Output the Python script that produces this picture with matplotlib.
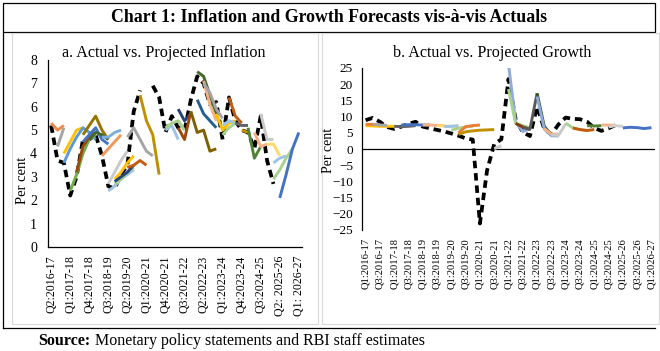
import numpy as np
import matplotlib
matplotlib.use("Agg")
import matplotlib.pyplot as plt
from matplotlib.patches import Rectangle
from matplotlib.lines import Line2D

plt.rcParams['font.family'] = ['Liberation Serif', 'DejaVu Serif']

# ---------------- data ----------------
title = "Chart 1: Inflation and Growth Forecasts vis-à-vis Actuals"
title_a = "a. Actual vs. Projected Inflation"
title_b = "b. Actual vs. Projected Growth"
ylabel = "Per cent"


def make_quarters(fy, q, n):
    out = []
    for _ in range(n):
        out.append(f"Q{q}:{fy}-{str(fy + 1)[2:]}")
        q += 1
        if q > 4:
            q, fy = 1, fy + 1
    return out


infl_quarters = make_quarters(2016, 2, 40)   # Q2:2016-17 ... Q1:2026-27
gdp_quarters = make_quarters(2016, 1, 41)    # Q1:2016-17 ... Q1:2026-27

infl_ticklabels = ["Q2:2016-17", "Q1:2017-18", "Q4:2017-18", "Q3:2018-19", "Q2:2019-20",
                   "Q1:2020-21", "Q4:2020-21", "Q3:2021-22", "Q2:2022-23", "Q1:2023-24",
                   "Q4:2023-24", "Q3:2024-25", "Q2: 2025-26", "Q1: 2026-27"]
gdp_ticklabels = gdp_quarters[::2]

nan = np.nan
infl_actual = [5.2, 3.7, 3.6, 2.2, 3.0, 4.6, 4.6, 4.8, 3.9, 2.6, 2.5, 3.1, 3.5, 5.8, 6.7, nan,
               6.9, 6.4, 4.9, 5.6, 5.1, 5.0, 6.3, 7.3, 7.0, 6.1, 6.2, 4.6, 6.4, 5.4, 5.0, 4.9,
               4.2, 5.6, 3.7, 2.7]

# (start quarter, projected values)
infl_proj = [
    ("Q2:2016-17", [5.3, 5.0, 5.2]),
    ("Q3:2016-17", [4.3, 5.1]),
    ("Q4:2016-17", [4.0, 4.5, 5.0, 5.1]),
    ("Q4:2016-17", [3.6, 4.2, 4.7, 5.1, 4.9, 4.6]),
    ("Q1:2017-18", [2.4, 3.1, 4.0, 4.6, 4.8]),
    ("Q2:2017-18", [3.2, 4.3, 4.7, 4.9]),
    ("Q3:2017-18", [4.5, 4.8, 5.1, 4.6, 4.4]),
    ("Q3:2017-18", [4.8, 5.2, 5.6, 5.0, 4.6]),
    ("Q4:2017-18", [4.6, 4.9, 4.8, 4.6]),
    ("Q2:2018-19", [4.7, 4.7, 4.9, 5.0]),
    ("Q2:2018-19", [3.9, 4.2, 4.5, 4.8]),
    ("Q3:2018-19", [2.7, 3.2, 3.7, 4.1]),
    ("Q3:2018-19", [2.4, 2.6, 2.9, 3.1, 3.3]),
    ("Q4:2018-19", [2.9, 3.2, 3.6, 3.9]),
    ("Q4:2018-19", [2.7, 2.9, 3.2, 3.4]),
    ("Q4:2018-19", [2.8, 3.0, 3.2, 3.5]),
    ("Q2:2019-20", [4.7, 5.1, 4.6, 4.1, 3.9]),
    ("Q2:2019-20", [3.4, 3.5, 3.7, 3.5]),
    ("Q4:2019-20", [6.5, 5.4, 4.8, 3.1]),
    ("Q4:2020-21", [5.0, 5.2, 4.6]),
    ("Q4:2020-21", [5.1, 5.3, 5.4, 5.0]),
    ("Q2:2021-22", [5.9, 5.4, 5.7]),
    ("Q2:2021-22", [5.1, 4.6, 5.8]),
    ("Q4:2021-22", [5.8, 4.9, 5.0, 4.1, 4.2]),
    ("Q1:2022-23", [6.3, 5.7, 5.4, 5.1]),
    ("Q1:2022-23", [7.5, 7.3, 6.5, 5.7]),
    ("Q2:2022-23", [7.1, 6.1, 5.4]),
    ("Q2:2022-23", [7.0, 6.6, 5.9, 5.5]),
    ("Q4:2022-23", [5.7, 5.0, 5.3, 5.4]),
    ("Q1:2023-24", [5.2, 5.4, 5.3]),
    ("Q1:2023-24", [4.8, 5.1, 5.3]),
    ("Q2:2023-24", [6.4, 5.6, 5.3]),
    ("Q3:2023-24", [5.3, 5.2, 5.2]),
    ("Q4:2023-24", [5.0, 4.9]),
    ("Q1:2024-25", [5.1, 3.8, 4.3]),
    ("Q2:2024-25", [4.9, 4.3, 4.4]),
    ("Q3:2024-25", [5.7, 4.6, 4.6]),
    ("Q4:2024-25", [4.4, 4.4, 3.9]),
    ("Q1:2025-26", [3.6, 3.8, 3.9]),
    ("Q1:2025-26", [2.9, 3.3, 3.8, 4.2]),
    ("Q2:2025-26", [2.1, 3.1, 4.2, 4.9]),
]
infl_colors = ["#F08A4B", "#A5A5A5", "#FFC000", "#5B9BD5", "#70AD47", "#9E480E",
               "#4472C4", "#997300", "#43682B", "#7CAFDD", "#F1975A", "#C9C9C9",
               "#9DC3E6", "#FFC000", "#A9D18E", "#264478", "#A5A5A5", "#C55A11",
               "#BF9000", "#9DC3E6", "#A9D18E", "#264478", "#9E480E", "#7F6000",
               "#255E91", "#43682B", "#F4B183", "#A5A5A5", "#FFC000", "#9DC3E6",
               "#A9D18E", "#C55A11", "#636363", "#BF9000", "#548235", "#F4B183",
               "#C9C9C9", "#FFD966", "#9DC3E6", "#A9D18E", "#4472C4"]

gdp_actual = [8.9, 9.6, 8.4, 6.8, 6.2, 6.9, 7.8, 8.4, 6.9, 6.4, 5.9, 5.4, 4.8, 4.1, 3.3, 2.9,
              -23.0, -6.6, 1.5, 3.0, 21.6, 9.1, 5.2, 4.0, 13.1, 6.2, 4.5, 7.6, 9.7, 9.3, 9.2,
              8.4, 6.5, 5.6, 6.4, 7.4]

gdp_proj = [
    ("Q1:2016-17", [7.2, 7.1, 7.0, 7.0, 7.0]),
    ("Q1:2016-17", [7.6, 7.6, 7.5]),
    ("Q2:2016-17", [7.6, 7.4, 7.3]),
    ("Q1:2017-18", [7.0, 6.9, 7.0, 7.2]),
    ("Q2:2017-18", [7.4, 7.5, 7.5, 7.4, 7.4]),
    ("Q1:2018-19", [7.4, 7.4, 7.3, 7.2]),
    ("Q3:2018-19", [7.2, 7.1, 7.0, 7.0]),
    ("Q4:2018-19", [6.9, 7.0, 7.2]),
    ("Q1:2019-20", [5.8, 6.4, 6.8, 7.0]),
    ("Q2:2019-20", [5.0, 6.9, 7.2, 7.4]),
    ("Q2:2019-20", [4.5, 5.3, 5.6, 5.8, 5.9, 6.0]),
    ("Q3:2020-21", [0.1, 1.0]),
    ("Q1:2021-22", [26.2, 8.3, 5.4, 6.2]),
    ("Q1:2021-22", [18.5, 7.9, 7.2, 6.6]),
    ("Q2:2021-22", [7.9, 6.8, 6.1]),
    ("Q3:2021-22", [6.6, 6.1, 17.2]),
    ("Q1:2022-23", [17.2, 7.0, 4.3, 4.5]),
    ("Q1:2022-23", [16.2, 6.2, 4.1, 4.0]),
    ("Q2:2022-23", [6.3, 4.6, 4.6]),
    ("Q3:2022-23", [4.4, 4.2, 7.8]),
    ("Q1:2023-24", [8.0, 6.5, 6.0, 5.7]),
    ("Q2:2023-24", [6.5, 6.0, 5.7, 6.0]),
    ("Q4:2023-24", [7.2, 7.1, 7.2]),
    ("Q2:2024-25", [7.4, 7.4, 7.2]),
    ("Q3:2024-25", [6.8, 7.2, 7.0]),
    ("Q1:2025-26", [6.5, 6.7, 6.6, 6.3, 6.6]),
]
gdp_colors = ["#FFC000", "#ED7D31", "#A5A5A5", "#636363", "#4472C4", "#F4B183",
              "#FFD966", "#9DC3E6", "#A9D18E", "#ED7D31", "#BF9000", "#C9C9C9",
              "#8FAADC", "#A9D18E", "#843C0C", "#595959", "#375623", "#8FAADC",
              "#F4B183", "#C9C9C9", "#A9D18E", "#C55A11", "#548235", "#F4B183",
              "#D0CECE", "#4472C4"]

# ---------------- figure ----------------
W, H = 660, 351
fig = plt.figure(figsize=(W / 100, H / 100), dpi=100)


def fx(x):
    return x / W


def fy(y):
    return 1 - y / H


def add_ax(x0, y0, x1, y1):
    return fig.add_axes([fx(x0), fy(y1), fx(x1) - fx(x0), fy(y0) - fy(y1)])


# frames
fig.patches.append(Rectangle((fx(3), fy(32)), fx(655) - fx(3), fy(3) - fy(32),
                             transform=fig.transFigure, fill=False, ec="black", lw=0.9))
fig.lines.append(Line2D([fx(3), fx(3)], [fy(32), fy(328)], transform=fig.transFigure,
                        color="black", lw=0.9))
fig.lines.append(Line2D([fx(3), fx(655)], [fy(328), fy(328)], transform=fig.transFigure,
                        color="black", lw=0.9))
fig.patches.append(Rectangle((fx(12), fy(324)), fx(318) - fx(12), fy(33) - fy(324),
                             transform=fig.transFigure, fill=False, ec="#D9D9D9", lw=0.8))
fig.patches.append(Rectangle((fx(322), fy(324)), fx(659) - fx(322), fy(33) - fy(324),
                             transform=fig.transFigure, fill=False, ec="#D9D9D9", lw=0.8))

fig.text(fx(329), fy(17), title, ha="center", va="center", fontsize=12.8, fontweight="bold")
fig.text(fx(164), fy(53), title_a, ha="center", va="center", fontsize=11.6)
fig.text(fx(492), fy(53), title_b, ha="center", va="center", fontsize=11.6)
fig.text(fx(22), fy(180), ylabel, rotation=90, ha="center", va="center", fontsize=10.5)
fig.text(fx(328), fy(150), ylabel, rotation=90, ha="center", va="center", fontsize=10)
fig.text(fx(38), fy(341), "Source:", ha="left", va="center", fontsize=11.5, fontweight="bold")
fig.text(fx(95), fy(341), "Monetary policy statements and RBI staff estimates",
         ha="left", va="center", fontsize=11.5)

dash = (0, (2.0, 1.3))

# ---------------- panel a ----------------
ax1 = add_ax(48, 60, 302, 247)
xi = np.arange(len(infl_quarters))
ax1.plot(xi[:len(infl_actual)], infl_actual, color="black", lw=2.7, ls=dash, zorder=2)
for (start, vals), c in zip(infl_proj, infl_colors):
    s = infl_quarters.index(start)
    ax1.plot(xi[s:s + len(vals)], vals, color=c, lw=2.1, solid_capstyle="butt", zorder=3)
ax1.set_xlim(-0.5, len(infl_quarters) - 0.5)
ax1.set_ylim(0, 8)
ax1.set_yticks(range(0, 9))
ax1.set_xticks([infl_quarters.index(t.replace(" ", "")) for t in infl_ticklabels])
ax1.set_xticklabels(infl_ticklabels, rotation=90, fontsize=8.6)
ax1.tick_params(axis="both", length=0)
ax1.tick_params(axis="y", labelsize=10, pad=8)
ax1.tick_params(axis="x", pad=6)
for s in ["top", "right"]:
    ax1.spines[s].set_visible(False)
for s in ["left", "bottom"]:
    ax1.spines[s].set_linewidth(0.9)
ax1.patch.set_visible(False)

# ---------------- panel b ----------------
ax2 = add_ax(362, 68, 655, 230)
xj = np.arange(len(gdp_quarters))
ax2.plot(xj[:len(gdp_actual)], gdp_actual, color="black", lw=2.7, ls=dash, zorder=2)
for (start, vals), c in zip(gdp_proj, gdp_colors):
    s = gdp_quarters.index(start)
    ax2.plot(xj[s:s + len(vals)], vals, color=c, lw=2.1, solid_capstyle="butt", zorder=3)
ax2.axhline(0, color="black", lw=0.9, zorder=1)
ax2.set_xlim(-0.5, len(gdp_quarters) - 0.5)
ax2.set_ylim(-25, 25)
ax2.set_yticks(range(-25, 30, 5))
ax2.set_xticks(range(0, len(gdp_quarters), 2))
ax2.set_xticklabels(gdp_ticklabels, rotation=90, fontsize=7.6)
ax2.tick_params(axis="both", length=0)
ax2.tick_params(axis="y", labelsize=9.5, pad=6.5)
ax2.tick_params(axis="x", pad=6)
for s in ["top", "right", "bottom"]:
    ax2.spines[s].set_visible(False)
ax2.spines["left"].set_linewidth(0.9)
ax2.patch.set_visible(False)

fig.savefig("out.png", dpi=100)
